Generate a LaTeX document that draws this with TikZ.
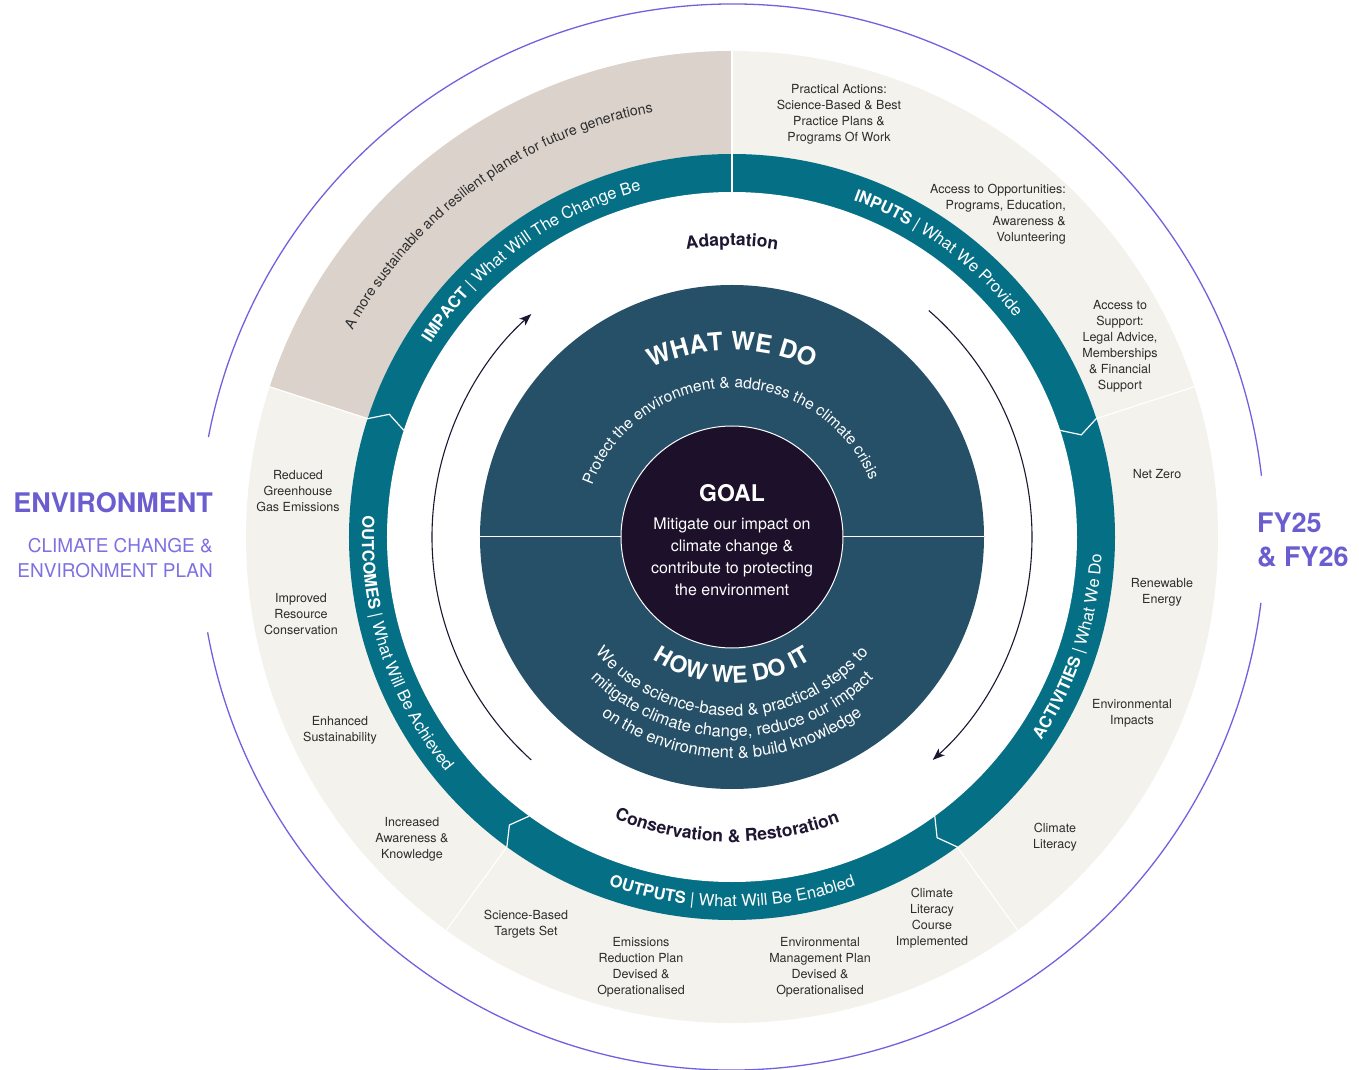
\documentclass[tikz,border=0pt]{standalone}
\usepackage{fontspec}
\setmainfont{TeX Gyre Heros}
\usetikzlibrary{arrows.meta,decorations.text}

\definecolor{ringteal}{RGB}{5,111,133}
\definecolor{whatblue}{RGB}{37,80,103}
\definecolor{goalpurple}{RGB}{29,16,42}
\definecolor{impacttaupe}{RGB}{219,210,203}
\definecolor{sectorbeige}{RGB}{243,242,236}
\definecolor{planpurple}{RGB}{112,98,222}
\definecolor{titlepurple}{RGB}{106,93,208}
\definecolor{subpurple}{RGB}{126,112,226}
\definecolor{labelgrey}{RGB}{45,45,45}
\definecolor{cycledark}{RGB}{30,22,50}

\newcommand{\bandbold}{\fontsize{16.5}{20}\selectfont\bfseries}
\newcommand{\bandthin}{\fontsize{16.5}{20}\selectfont\mdseries}

\begin{document}
\begin{tikzpicture}[x=1pt,y=1pt,
  lbl/.style={font=\fontsize{12.5}{16}\selectfont,text=labelgrey,align=center,inner sep=0pt},
  sepline/.style={white,line width=1.2pt},
  cycarrow/.style={cycledark,line width=1.1pt,-{Stealth[length=12pt,width=9pt,inset=3pt]}},
  arctext/.style={decorate,decoration={text along path,text align=center,text format delimiters={[}{]}}},
  plantitle/.style={font=\fontsize{27}{32}\selectfont\bfseries,text=titlepurple,inner sep=0pt}
]
\useasboundingbox (-732,-533) rectangle (627,537);

% outer ring sectors
\fill[sectorbeige] (0,0) circle (486);
\fill[impacttaupe] (90:486) arc[start angle=90,end angle=162,radius=486]
  -- (162:383) arc[start angle=162,end angle=90,radius=383] -- cycle;
\fill[ringteal] (0,0) circle (383);
\fill[white] (0,0) circle (345);
\draw[sepline] (90:345) -- (90:486);
\foreach \a in {18,-54,-126,162}
  \draw[sepline] (\a:345) -- (\a-1.7:364) -- (\a:383) -- (\a:486);

% centre
\fill[whatblue] (0,0) circle (252);
\draw[white,line width=1pt] (-252,0) -- (252,0);
\filldraw[fill=goalpurple,draw=white,line width=1pt] (0,0) circle (111);
\node[font=\fontsize{23}{26}\selectfont\bfseries,text=white] (goal) at (0,44) {GOAL};
\node[font=\fontsize{16}{22}\selectfont,text=white,align=center] (goaltxt) at (0,-20)
  {Mitigate our impact on\\climate change \&\\contribute to protecting\\the environment};

% cycle arrows
\draw[cycarrow] (228:300) arc[start angle=228,end angle=132,radius=300];
\draw[cycarrow] (49:300) arc[start angle=49,end angle=-48,radius=300];

% curved texts
\path[arctext,decoration={text color=labelgrey,text={[\fontsize{14.2}{16}\selectfont]A more sustainable and resilient planet for future generations}}]
  (166:432) arc[start angle=166,end angle=86,radius=432];
\path[arctext,decoration={text color=white,text={[\bandbold]IMPACT [\bandthin]| What Will The Change Be}}]
  (166:358) arc[start angle=166,end angle=86,radius=358];
\path[arctext,decoration={text color=white,text={[\bandbold]INPUTS [\bandthin]| What We Provide}}]
  (94:358) arc[start angle=94,end angle=14,radius=358];
\path[arctext,decoration={text color=white,text={[\bandbold]ACTIVITIES [\bandthin]| What We Do}}]
  (-58:370) arc[start angle=-58,end angle=22,radius=370];
\path[arctext,decoration={text color=white,text={[\bandbold]OUTPUTS [\bandthin]| What Will Be Enabled}}]
  (230:370) arc[start angle=230,end angle=310,radius=370];
\path[arctext,decoration={text color=white,text={[\bandbold]OUTCOMES [\bandthin]| What Will Be Achieved}}]
  (158:370) arc[start angle=158,end angle=238,radius=370];
\path[arctext,decoration={text color=cycledark,text={[\fontsize{17.5}{20}\selectfont\bfseries]Adaptation}}]
  (115:291) arc[start angle=115,end angle=65,radius=291];
\path[arctext,decoration={text color=cycledark,text={[\fontsize{17.5}{20}\selectfont\bfseries]Conservation {\&} Restoration}}]
  (229:305) arc[start angle=229,end angle=309,radius=305];
\path[arctext,decoration={text color=white,text={[\fontsize{25}{28}\selectfont\bfseries]WHAT WE DO}}]
  (130:187) arc[start angle=130,end angle=50,radius=187];
\path[arctext,decoration={text color=white,text={[\fontsize{15.5}{18}\selectfont]Protect the environment {\&} address the climate crisis}}]
  (176:149) arc[start angle=176,end angle=6,radius=149];
\path[arctext,decoration={text color=white,text={[\fontsize{23}{26}\selectfont\bfseries]HOW WE DO IT}}]
  (220:146) arc[start angle=220,end angle=320,radius=146];
\path[arctext,decoration={text color=white,text={[\fontsize{16.5}{19}\selectfont]We use science-based {\&} practical steps to}}]
  (205:179) arc[start angle=205,end angle=335,radius=179];
\path[arctext,decoration={text color=white,text={[\fontsize{16.5}{19}\selectfont]mitigate climate change, reduce our impact}}]
  (205:200) arc[start angle=205,end angle=335,radius=200];
\path[arctext,decoration={text color=white,text={[\fontsize{16.5}{19}\selectfont]on the environment {\&} build knowledge}}]
  (205:221) arc[start angle=205,end angle=335,radius=221];

% inputs
\node[lbl] (practical) at (107,423) {Practical Actions:\\Science-Based \& Best\\Practice Plans \&\\Programs Of Work};
\node[lbl,align=right,anchor=east] (opport) at (334,323) {Access to Opportunities:\\Programs, Education,\\Awareness \&\\Volunteering};
\node[lbl] (support) at (388,190.5) {Access to\\Support:\\Legal Advice,\\Memberships\\\& Financial\\Support};
% activities
\node[lbl] (netzero) at (425,63) {Net Zero};
\node[lbl] (renew) at (430,-55) {Renewable\\Energy};
\node[lbl] (envimp) at (400,-176) {Environmental\\Impacts};
\node[lbl] (climlit) at (323,-300) {Climate\\Literacy};
% outputs
\node[lbl] (course) at (200,-381) {Climate\\Literacy\\Course\\Implemented};
\node[lbl] (emplan) at (88,-430) {Environmental\\Management Plan\\Devised \&\\Operationalised};
\node[lbl] (erplan) at (-91,-430) {Emissions\\Reduction Plan\\Devised \&\\Operationalised};
\node[lbl] (sbtargets) at (-206,-387) {Science-Based\\Targets Set};
% outcomes
\node[lbl] (awareness) at (-320,-302) {Increased\\Awareness \&\\Knowledge};
\node[lbl] (sustain) at (-392,-193) {Enhanced\\Sustainability};
\node[lbl] (resource) at (-431,-77) {Improved\\Resource\\Conservation};
\node[lbl] (ghg) at (-434,46) {Reduced\\Greenhouse\\Gas Emissions};

% outer ring and titles
\draw[planpurple,line width=1.3pt] (6.6:533) arc[start angle=6.6,end angle=169.2,radius=533];
\draw[planpurple,line width=1.3pt] (190.3:533) arc[start angle=190.3,end angle=352.9,radius=533];
\node[plantitle,anchor=east] (envtitle) at (-519,34) {ENVIRONMENT};
\node[font=\fontsize{19}{25}\selectfont,text=subpurple,align=right,anchor=east,inner sep=0pt] (envsub) at (-519,-21.5)
  {CLIMATE CHANGE \&\\ENVIRONMENT PLAN};
\node[plantitle,align=left,anchor=west,font=\fontsize{27}{34}\selectfont\bfseries] (fyears) at (525,-3) {FY25\\\& FY26};
\end{tikzpicture}
\end{document}
